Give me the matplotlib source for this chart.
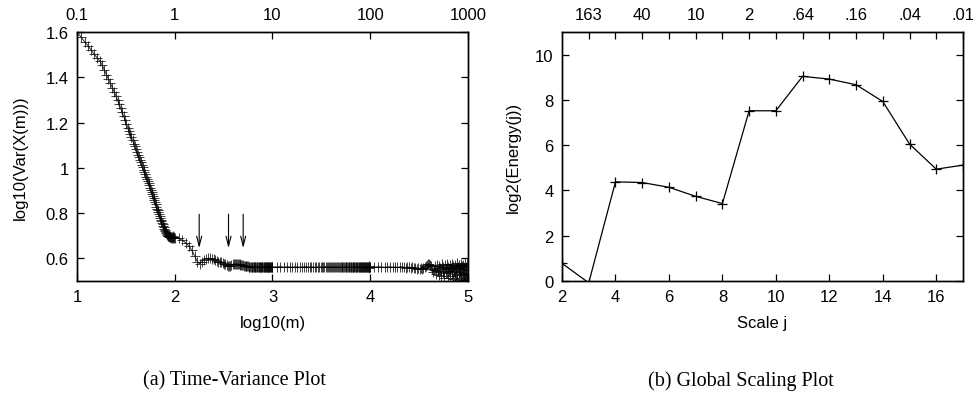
import numpy as np
import matplotlib
matplotlib.use("Agg")
import matplotlib.pyplot as plt

plt.rcParams['font.family'] = ['Liberation Sans', 'DejaVu Sans']

# ---------------- Left panel data: log10(Var(X(m))) vs log10(m) ----------------
# sample sizes m: each decade sampled with 90 linear steps
var_dec1 = [1.600, 1.578, 1.556, 1.538, 1.520, 1.502, 1.487, 1.473, 1.456, 1.433,
            1.412, 1.392, 1.373, 1.353, 1.336, 1.318, 1.300, 1.282, 1.263, 1.245,
            1.227, 1.210, 1.194, 1.178, 1.164, 1.149, 1.135, 1.121, 1.107, 1.095,
            1.082, 1.070, 1.058, 1.047, 1.035, 1.024, 1.012, 1.002, 0.991, 0.981,
            0.971, 0.961, 0.951, 0.942, 0.932, 0.922, 0.912, 0.902, 0.893, 0.883,
            0.874, 0.865, 0.856, 0.847, 0.838, 0.829, 0.820, 0.812, 0.803, 0.795,
            0.787, 0.779, 0.771, 0.764, 0.757, 0.750, 0.743, 0.737, 0.731, 0.725,
            0.720, 0.715, 0.711, 0.707, 0.704, 0.701, 0.699, 0.697, 0.695, 0.694,
            0.693, 0.692, 0.694, 0.690, 0.696, 0.689, 0.693, 0.697, 0.690, 0.694]
var_dec2 = [0.690, 0.688, 0.680, 0.668, 0.655, 0.635, 0.610, 0.585, 0.576, 0.585,
            0.594, 0.598, 0.600, 0.600, 0.598, 0.595, 0.592, 0.589, 0.586, 0.584,
            0.582, 0.580, 0.577, 0.574, 0.570, 0.566, 0.565, 0.567, 0.570, 0.573,
            0.575, 0.576, 0.576, 0.575, 0.575, 0.574, 0.573, 0.572, 0.571, 0.570,
            0.569, 0.568, 0.567, 0.566, 0.566, 0.565, 0.565, 0.564, 0.564, 0.564,
            0.563, 0.564, 0.562, 0.564, 0.563, 0.561, 0.564, 0.563, 0.562, 0.564,
            0.562, 0.563, 0.561, 0.564, 0.562, 0.563, 0.561, 0.563, 0.562, 0.564,
            0.561, 0.563, 0.562, 0.562, 0.564, 0.561, 0.563, 0.562, 0.563, 0.561,
            0.564, 0.562, 0.563, 0.561, 0.562, 0.564, 0.562, 0.563, 0.561, 0.562]
var_dec3 = [0.563, 0.562, 0.564, 0.561, 0.563, 0.562, 0.560, 0.563, 0.562, 0.561,
            0.563, 0.562, 0.564, 0.562, 0.561, 0.563, 0.562, 0.560, 0.562, 0.563,
            0.561, 0.562, 0.563, 0.561, 0.562, 0.564, 0.562, 0.561, 0.563, 0.562,
            0.560, 0.562, 0.563, 0.561, 0.562, 0.563, 0.562, 0.560, 0.562, 0.563,
            0.561, 0.562, 0.564, 0.562, 0.561, 0.563, 0.562, 0.561, 0.563, 0.562,
            0.560, 0.562, 0.563, 0.561, 0.562, 0.564, 0.562, 0.561, 0.563, 0.562,
            0.561, 0.563, 0.562, 0.560, 0.562, 0.564, 0.561, 0.562, 0.563, 0.561,
            0.562, 0.560, 0.563, 0.562, 0.561, 0.564, 0.562, 0.560, 0.563, 0.561,
            0.562, 0.564, 0.561, 0.563, 0.560, 0.562, 0.565, 0.559, 0.563, 0.561]
var_dec4 = [0.562, 0.561, 0.563, 0.562, 0.560, 0.562, 0.563, 0.561, 0.562, 0.560,
            0.562, 0.563, 0.561, 0.559, 0.562, 0.560, 0.558, 0.561,
            0.557, 0.559, 0.554, 0.557, 0.552, 0.556, 0.553, 0.558, 0.560, 0.565,
            0.570, 0.574,
            0.576, 0.572, 0.565, 0.553, 0.540,
            0.548, 0.566, 0.532, 0.571, 0.545, 0.527, 0.568, 0.556, 0.520, 0.573,
            0.541, 0.562, 0.515, 0.570, 0.535, 0.552, 0.575, 0.512, 0.560, 0.544,
            0.572, 0.520, 0.558, 0.538, 0.576, 0.508, 0.565, 0.546, 0.570, 0.515,
            0.553, 0.532, 0.578, 0.505, 0.562, 0.540, 0.572, 0.510, 0.556, 0.528,
            0.575, 0.502, 0.566, 0.536, 0.570, 0.506, 0.552, 0.530, 0.578, 0.500,
            0.560, 0.525, 0.574, 0.503, 0.548, 0.535]
arrow_x = [2.25, 2.55, 2.70]
top_left_labels = ['0.1', '1', '10', '100', '1000']

# ---------------- Right panel data: log2(Energy(j)) vs scale j ----------------
scale_j = [2, 3, 4, 5, 6, 7, 8, 9, 10, 11, 12, 13, 14, 15, 16, 17]
log2_energy = [0.78, -0.08, 4.38, 4.35, 4.14, 3.74, 3.42, 7.52, 7.52, 9.04,
               8.92, 8.67, 7.93, 6.05, 4.94, 5.12]
top_right_labels = ['163', '40', '10', '2', '.64', '.16', '.04', '.01']

# build m grid
m_vals = []
for d, ys in enumerate([var_dec1, var_dec2, var_dec3, var_dec4]):
    m_vals.extend([(10 + k) * 10 ** d for k in range(len(ys))])
var_all = var_dec1 + var_dec2 + var_dec3 + var_dec4
log_m = np.log10(np.array(m_vals, dtype=float))

fig = plt.figure(figsize=(9.79, 4.02), dpi=100)
W, H = 979, 402
def axrect(x0, x1, y0, y1):
    return [x0 / W, 1 - y1 / H, (x1 - x0) / W, (y1 - y0) / H]

FS = 12
tick_kw = dict(direction='in', length=5, width=0.9, labelsize=FS, color='black')

# ---- left ----
ax1 = fig.add_axes(axrect(77, 468, 33, 282))
ax1.plot(log_m, var_all, color='black', lw=0.8, marker='+', ms=7, mew=0.7,
         alpha=0.75)
ax1.set_xlim(1, 5)
ax1.set_ylim(0.5, 1.6)
ax1.set_xticks([1, 2, 3, 4, 5])
ax1.set_yticks([0.6, 0.8, 1.0, 1.2, 1.4, 1.6])
ax1.set_yticklabels(['0.6', '0.8', '1', '1.2', '1.4', '1.6'])
ax1.tick_params(axis='both', which='both', left=True, right=True, bottom=True,
                top=False, pad=6, **tick_kw)
ax1.set_xlabel('log10(m)', fontsize=FS, labelpad=8)
ax1.set_ylabel('log10(Var(X(m)))', fontsize=FS, labelpad=13)
for a in arrow_x:
    ax1.annotate('', xy=(a, 0.645), xytext=(a, 0.795),
                 arrowprops=dict(arrowstyle='->,head_length=0.7,head_width=0.18',
                                 lw=0.8, color='black', shrinkA=0, shrinkB=0))
t1 = ax1.twiny()
t1.set_xlim(1, 5)
t1.set_xticks(np.log10([float(v) for v in top_left_labels]) + 2)
t1.set_xticklabels(top_left_labels)
t1.tick_params(axis='x', top=True, pad=7, **tick_kw)
for a in (ax1, t1):
    for s in a.spines.values():
        s.set_linewidth(1.0)

# ---- right ----
ax2 = fig.add_axes(axrect(562, 963, 33, 282))
ax2.plot(scale_j, log2_energy, color='black', lw=0.9, marker='+', ms=7, mew=0.9,
         clip_on=True)
ax2.set_xlim(2, 17)
ax2.set_ylim(0, 11)
ax2.set_xticks([2, 4, 6, 8, 10, 12, 14, 16])
ax2.set_yticks([0, 2, 4, 6, 8, 10])
ax2.tick_params(axis='both', which='both', left=True, right=True, bottom=True,
                top=False, pad=6, **tick_kw)
ax2.set_xlabel('Scale j', fontsize=FS, labelpad=8)
ax2.set_ylabel('log2(Energy(j))', fontsize=FS, labelpad=10)
t2 = ax2.twiny()
t2.set_xlim(2, 17)
t2.set_xticks(scale_j[1::2])
t2.set_xticklabels(top_right_labels)
t2.set_xticks(scale_j[2:-1:2], minor=True)
t2.tick_params(axis='x', which='both', top=True, pad=7, **tick_kw)
for a in (ax2, t2):
    for s in a.spines.values():
        s.set_linewidth(1.0)

fig.text(234 / W, 1 - 381 / H, '(a) Time-Variance Plot', ha='center', va='center',
         family='Liberation Serif', fontsize=14.5)
fig.text(741 / W, 1 - 381 / H, '(b) Global Scaling Plot', ha='center', va='center',
         family='Liberation Serif', fontsize=14.5)

fig.savefig('out.png', dpi=100)
